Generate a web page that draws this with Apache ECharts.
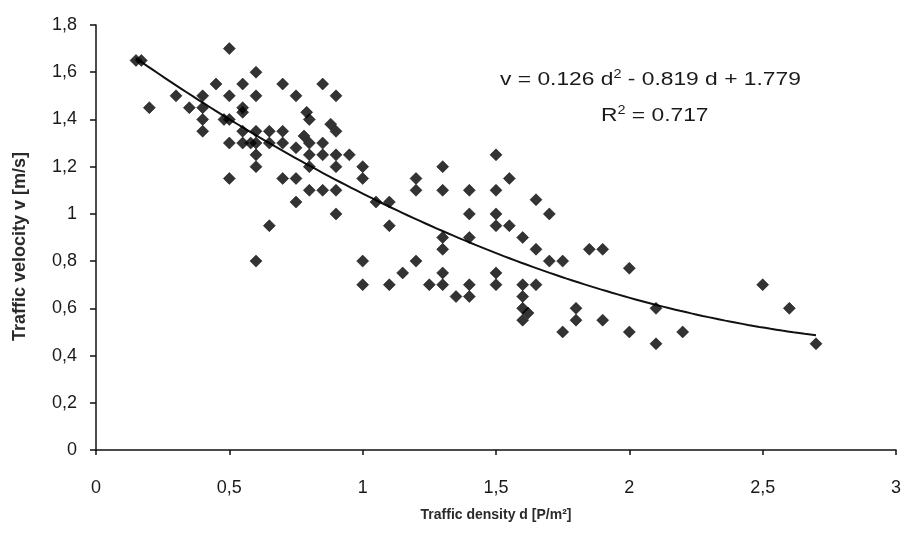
<!DOCTYPE html>
<html><head><meta charset="utf-8">
<script src="https://cdn.jsdelivr.net/npm/echarts@6/dist/echarts.min.js"></script>
<style>html,body{margin:0;padding:0;background:#fff}#c{width:909px;height:535px}</style>
</head><body><div id="c"></div>
<script>
const density = [0.15,0.17,0.2,0.3,0.35,0.4,0.4,0.4,0.4,0.45,
0.5,0.5,0.48,0.5,0.5,0.5,
0.55,0.55,0.55,0.55,0.55,0.58,
0.6,0.6,0.6,0.6,0.6,0.6,0.6,
0.65,0.65,0.65,
0.7,0.7,0.7,0.7,
0.75,0.75,0.75,0.75,
0.79,0.8,0.78,0.8,0.8,0.8,0.8,
0.85,0.85,0.85,0.85,
0.88,0.9,0.9,0.9,0.9,0.9,0.9,
0.95,
1.0,1.0,1.0,1.0,
1.05,1.1,1.1,1.1,1.15,
1.2,1.2,1.2,
1.25,1.3,1.3,1.3,1.3,1.3,1.3,
1.35,1.4,1.4,1.4,1.4,1.4,
1.5,1.5,1.5,1.5,1.5,1.5,
1.55,1.55,
1.6,1.6,1.6,1.6,1.62,1.6,
1.65,1.65,1.65,
1.7,1.7,1.75,1.75,
1.8,1.8,1.85,1.9,1.9,
2.0,2.0,2.1,2.1,2.2,2.5,2.6,2.7];
const velocity = [1.65,1.65,1.45,1.5,1.45,1.5,1.45,1.4,1.35,1.55,
1.7,1.5,1.4,1.4,1.3,1.15,
1.55,1.45,1.43,1.35,1.3,1.3,
1.6,1.5,1.35,1.3,1.25,1.2,0.8,
1.35,1.3,0.95,
1.55,1.35,1.3,1.15,
1.5,1.28,1.15,1.05,
1.43,1.4,1.33,1.3,1.25,1.2,1.1,
1.55,1.3,1.25,1.1,
1.38,1.35,1.5,1.25,1.2,1.1,1.0,
1.25,
1.2,1.15,0.8,0.7,
1.05,1.05,0.95,0.7,0.75,
1.15,1.1,0.8,
0.7,1.2,1.1,0.9,0.85,0.75,0.7,
0.65,1.1,1.0,0.9,0.7,0.65,
1.25,1.1,1.0,0.95,0.75,0.7,
1.15,0.95,
0.9,0.7,0.65,0.6,0.58,0.55,
1.06,0.85,0.7,
1.0,0.8,0.8,0.5,
0.6,0.55,0.85,0.85,0.55,
0.77,0.5,0.6,0.45,0.5,0.7,0.6,0.45];
// Trend line coefficients as printed on the chart: v = a d^2 + b d + c
const trendCoef = [0.126, -0.819, 1.779];
const trendRange = [0.15, 2.7];
const xTicks = ['0','0,5','1','1,5','2','2,5','3'];

const pts = density.map((d,i)=>[d, velocity[i]]);
const trend = [];
for (let k=0;k<=60;k++){
  const d = trendRange[0] + (trendRange[1]-trendRange[0])*k/60;
  trend.push([d, trendCoef[0]*d*d + trendCoef[1]*d + trendCoef[2]]);
}
const fmt = v => String(Math.round(v*10)/10).replace('.', ',');
const chart = echarts.init(document.getElementById('c'));
chart.setOption({
  animation:false,
  backgroundColor:'#fff',
  grid:{left:96,right:13,top:25,bottom:85},
  xAxis:{type:'value',min:0,max:3,interval:0.5,
    axisLine:{lineStyle:{color:'#111',width:1.5}},
    axisTick:{show:true,length:5,lineStyle:{color:'#111',width:1.5}},
    splitLine:{show:false},
    axisLabel:{color:'#1a1a1a',fontSize:18,fontFamily:'Liberation Sans',margin:29,formatter:fmt},
    name:'Traffic density d [P/m²]',nameLocation:'middle',nameGap:58,
    nameTextStyle:{color:'#2a2a2a',fontSize:14,fontWeight:'bold',fontFamily:'Liberation Sans'}},
  yAxis:{type:'value',min:0,max:1.8,interval:0.2,
    axisLine:{show:true,lineStyle:{color:'#111',width:1.5}},
    axisTick:{show:true,length:6,lineStyle:{color:'#111',width:1.5}},
    splitLine:{show:false},
    axisLabel:{color:'#1a1a1a',fontSize:18,fontFamily:'Liberation Sans',margin:19,formatter:fmt},
    name:'Traffic velocity v [m/s]',nameLocation:'middle',nameGap:67,nameRotate:90,
    nameTextStyle:{color:'#2a2a2a',fontSize:18,fontWeight:'bold',fontFamily:'Liberation Sans',padding:[0,18,0,0]}},
  graphic:[
    {type:'text',x:500,y:69,scaleX:1.2,style:{
      text:'v = 0.126 d{s|2} - 0.819 d + 1.779',
      fill:'#1a1a1a',font:'19px "Liberation Sans"',textVerticalAlign:'top',
      rich:{s:{fontSize:12,padding:[0,0,9,0],fill:'#1a1a1a',fontFamily:'Liberation Sans'}}}},
    {type:'text',x:601,y:105,scaleX:1.2,style:{
      text:'R{s|2} = 0.717',
      fill:'#1a1a1a',font:'19px "Liberation Sans"',textVerticalAlign:'top',
      rich:{s:{fontSize:12,padding:[0,0,9,0],fill:'#1a1a1a',fontFamily:'Liberation Sans'}}}}
  ],
  series:[
    {type:'scatter',data:pts,symbol:'diamond',symbolSize:12,itemStyle:{color:'#000',borderColor:'#000',borderWidth:0.6},z:3},
    {type:'line',data:trend,showSymbol:false,smooth:true,lineStyle:{color:'#111',width:2},z:2}
  ]
});
</script></body></html>
